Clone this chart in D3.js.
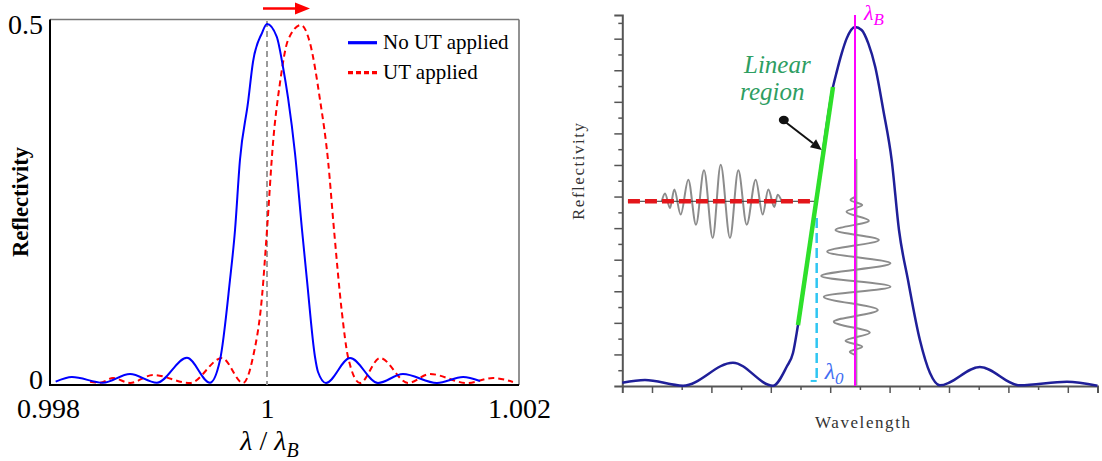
<!DOCTYPE html>
<html>
<head>
<meta charset="utf-8">
<script src="https://cdn.jsdelivr.net/npm/d3@7"></script>
<style>
  body { margin: 0; background: #fff; }
  svg { display: block; }
  svg text { font-family: "Liberation Serif", "DejaVu Serif", serif; }
</style>
</head>
<body>
<script>
// ---- left chart data (reflectivity vs lambda / lambda_B) ----
let blueX = [0.99807, 0.998219, 0.998502, 0.998749, 0.998995, 0.999269, 0.999479, 0.999571,
  0.999662, 0.999708, 0.999753, 0.999826, 0.999872, 0.999954, 1.0,
  1.000077, 1.000127, 1.000167, 1.000222, 1.000278, 1.000317, 1.000381, 1.000405, 1.000468,
  1.000659, 1.000881, 1.001079, 1.001349, 1.001556, 1.00169];
let blueR = [0.0032, 0.0096, 0.0018, 0.0137, 0.0018, 0.0361, 0.0018, 0.033,
  0.1429, 0.2115, 0.3077, 0.386, 0.4423, 0.4821, 0.4945,
  0.4771, 0.4354, 0.3929, 0.3173, 0.2115, 0.1429, 0.0371, 0.0165, 0.0014,
  0.0357, 0.0014, 0.0137, 0.0014, 0.0096, 0.0041];

let redX = [0.998384, 0.998475, 0.998594, 0.998749, 0.998959, 0.999297, 0.999589, 0.999781,
  0.999872, 0.999954, 1.0, 1.0000476, 1.000103, 1.000167, 1.00027, 1.000341, 1.000421,
  1.000484, 1.000532, 1.000595, 1.000643, 1.000738, 1.000897, 1.001119, 1.001294,
  1.001587, 1.001794, 1.001952];
let redR = [0.0032, 0.0018, 0.0082, 0.0014, 0.0124, 0.0014, 0.0357, 0.0014,
  0.0371, 0.1195, 0.2115, 0.331, 0.4135, 0.4725, 0.4931, 0.4684, 0.3901,
  0.3077, 0.2115, 0.0975, 0.0371, 0.0014, 0.0357, 0.0014, 0.0137,
  0.0014, 0.0082, 0.0027];

let xTicksL = [0.998, 1, 1.002];
let yTicksL = [0, 0.5];
let seriesNames = ["No UT applied", "UT applied"];
let redPeak = 1.00027;

// ---- right chart data (schematic, arbitrary units) ----
let waveX = [0, 0.764, 2.044, 3.727, 5.074, 5.535, 5.747, 5.916, 6.505, 7.094, 7.219, 7.387,
  7.556, 7.835, 8.057, 8.283, 8.515, 8.787, 9.07, 9.316, 9.619, 10.02, 10.36, 10.69,
  12.04, 13.39, 14.97, 16.0];
let waveR = [0.21, 0.38, 0.02, 1.48, 0.02, 1.22, 2.09, 3.86, 11.40, 18.94, 19.9, 21.07,
  22.02, 22.74, 22.55, 21.7, 20.22, 17.48, 14.31, 9.88, 6.71, 2.91, 0.82, 0.04,
  1.2, 0.04, 0.27, 0.02];

let linearX = [5.916, 7.094];
let linearR = [3.86, 18.94];

// wave packet lying on the bias level (extremes)
let hPacketX = [1.327, 1.438, 1.606, 1.751, 1.966, 2.222, 2.481, 2.751, 3.044, 3.313,
  3.626, 3.906, 4.189, 4.492, 4.727, 4.916, 5.118, 5.232, 5.367];
let hPacketA = [0, 0.49, -0.42, 0.74, -0.84, 1.37, -1.48, 1.96, -2.32, 2.32,
  -2.32, 1.96, -1.48, 1.37, -0.84, 0.74, -0.36, 0.42, 0];

// wave packet hanging on lambda_B
let vPacketR = [11.99, 11.78, 11.46, 11.04, 10.47, 9.88, 9.25, 8.51, 7.77, 6.97,
  6.29, 5.66, 4.81, 4.07, 3.38, 2.87, 2.49, 2.17, 1.96];
let vPacketA = [0, -0.168, 0.226, -0.303, 0.448, -0.673, 0.785, -0.953, 1.178, -1.155,
  1.178, -1.067, 0.751, -0.731, 0.481, -0.337, 0.226, -0.192, 0];

let lambdaB = 7.835;
let lambda0 = 6.545;
let biasR = 11.70;

// ---- svg ----
let svg = d3.select("body").append("svg")
  .attr("width", 1102)
  .attr("height", 461);

// =============== LEFT CHART ===============
let box = { left: 50, right: 519, top: 19.5, bottom: 385 };

let xL = d3.scaleLinear()
  .domain([0.998, 1, 1.002])
  .range([48, 267, 519]);

let yL = d3.scaleLinear()
  .domain([0, 0.5])
  .range([384, 20]);

let left = svg.append("g");

// frame: grey top / right, black left / bottom
left.append("line").attr("x1", box.left).attr("x2", box.right)
  .attr("y1", box.top).attr("y2", box.top)
  .attr("stroke", "#777").attr("stroke-width", 1.6);
left.append("line").attr("x1", box.right).attr("x2", box.right)
  .attr("y1", box.top).attr("y2", box.bottom)
  .attr("stroke", "#777").attr("stroke-width", 1.6);

// x axis
let xAxisL = left.append("g")
  .attr("transform", `translate(0, ${box.bottom})`)
  .call(d3.axisBottom(xL).tickValues(xTicksL).tickSize(0).tickPadding(13)
    .tickFormat(d => d === 1 ? "1" : d3.format(".3f")(d)));
xAxisL.select(".domain").remove();
xAxisL.selectAll("text")
  .attr("font-size", 28).attr("fill", "#000");

// y axis
let yAxisL = left.append("g")
  .attr("transform", `translate(${box.left}, 0)`)
  .call(d3.axisLeft(yL).tickValues(yTicksL).tickSize(0).tickPadding(7)
    .tickFormat(d => d === 0 ? "0" : "0.5"));
yAxisL.select(".domain").remove();
yAxisL.selectAll("text")
  .attr("y", d => d === 0 ? -4 : 5)
  .attr("font-size", 28).attr("fill", "#000");

left.append("line").attr("x1", box.left).attr("x2", box.left)
  .attr("y1", box.top).attr("y2", box.bottom + 1)
  .attr("stroke", "#000").attr("stroke-width", 2);
left.append("line").attr("x1", box.left).attr("x2", box.right)
  .attr("y1", box.bottom).attr("y2", box.bottom)
  .attr("stroke", "#000").attr("stroke-width", 2);

// reference line at lambda = lambda_B
left.append("line")
  .attr("x1", xL(1)).attr("x2", xL(1))
  .attr("y1", yL(0.5) + 1).attr("y2", box.bottom)
  .attr("stroke", "#9a9a9a").attr("stroke-width", 2)
  .attr("stroke-dasharray", "6,4");

let lineL = d3.line()
  .x(d => xL(d[0]))
  .y(d => yL(d[1]))
  .curve(d3.curveMonotoneX);

left.append("path")
  .datum(redX.map((x, i) => [x, redR[i]]))
  .attr("d", lineL)
  .attr("fill", "none")
  .attr("stroke", "#ff0000")
  .attr("stroke-width", 2)
  .attr("stroke-dasharray", "6,4");

left.append("path")
  .datum(blueX.map((x, i) => [x, blueR[i]]))
  .attr("d", lineL)
  .attr("fill", "none")
  .attr("stroke", "#0000ff")
  .attr("stroke-width", 2);

// shift arrow
let arrowY = 8.5;
left.append("line")
  .attr("x1", xL(1) - 4).attr("x2", xL(redPeak) - 5)
  .attr("y1", arrowY).attr("y2", arrowY)
  .attr("stroke", "#ff0000").attr("stroke-width", 2.5);
left.append("path")
  .attr("d", `M${xL(redPeak) - 6},${arrowY - 6}L${xL(redPeak) + 9},${arrowY}L${xL(redPeak) - 6},${arrowY + 6}Z`)
  .attr("fill", "#ff0000");

// legend
let legend = left.append("g").attr("transform", "translate(348, 42.7)");
legend.append("line").attr("x1", 0).attr("x2", 29).attr("y1", 0).attr("y2", 0)
  .attr("stroke", "#0000ff").attr("stroke-width", 3.2);
legend.append("line").attr("x1", 0).attr("x2", 29).attr("y1", 30).attr("y2", 30)
  .attr("stroke", "#ff0000").attr("stroke-width", 3.2).attr("stroke-dasharray", "5,3");
legend.selectAll("text.leg")
  .data(seriesNames)
  .enter()
  .append("text")
  .attr("x", 35)
  .attr("y", (d, i) => 6 + i * 30)
  .attr("font-size", 21)
  .text(d => d);

// axis titles
left.append("text")
  .attr("transform", "translate(28, 202) rotate(-90)")
  .attr("text-anchor", "middle")
  .attr("font-weight", "bold")
  .attr("font-size", 22.5)
  .text("Reflectivity");

let xTitle = left.append("text")
  .attr("x", 269.5).attr("y", 450)
  .attr("text-anchor", "middle")
  .attr("font-size", 28);
xTitle.append("tspan").attr("font-style", "italic").text("λ");
xTitle.append("tspan").text(" / ");
xTitle.append("tspan").attr("font-style", "italic").text("λ");
xTitle.append("tspan").attr("font-style", "italic").attr("font-size", 20)
  .attr("dy", 7).text("B");

// =============== RIGHT CHART ===============
let xR = d3.scaleLinear().domain([0, 16]).range([622.3, 1097.5]);
let yR = d3.scaleLinear().domain([0, 23.5]).range([386, 15]);

let right = svg.append("g");

let xAxisR = right.append("g")
  .attr("transform", `translate(0, ${yR(0)})`)
  .call(d3.axisBottom(xR).tickValues(d3.range(1, 16)).tickSizeOuter(7).tickFormat(""));
xAxisR.selectAll(".tick line").attr("y2", d => d % 2 ? 7 : 4)
  .attr("stroke", "#555").attr("stroke-width", 1.5);
xAxisR.select(".domain").attr("stroke", "#555").attr("stroke-width", 2);

let yAxisR = right.append("g")
  .attr("transform", `translate(${xR(0)}, 0)`)
  .call(d3.axisLeft(yR).tickValues(d3.range(1, 24)).tickSizeOuter(8).tickFormat(""));
yAxisR.selectAll(".tick line").attr("x2", d => d % 2 ? -4 : -8)
  .attr("stroke", "#555").attr("stroke-width", 1.5);
yAxisR.select(".domain").attr("stroke", "#555").attr("stroke-width", 2);

// reflectivity spectrum
let lineR = d3.line()
  .x(d => xR(d[0]))
  .y(d => yR(d[1]))
  .curve(d3.curveMonotoneX);

right.append("path")
  .datum(waveX.map((x, i) => [x, waveR[i]]))
  .attr("d", lineR)
  .attr("fill", "none")
  .attr("stroke", "#1f1f99")
  .attr("stroke-width", 2.5);

// strain signal hanging on lambda_B
right.append("line")
  .attr("x1", xR(lambdaB + 0.055)).attr("x2", xR(lambdaB + 0.055))
  .attr("y1", yR(14.38)).attr("y2", yR(0))
  .attr("stroke", "#999").attr("stroke-width", 1.5);

right.append("path")
  .datum(vPacketR.map((r, i) => [lambdaB + 0.017 + vPacketA[i], r]))
  .attr("d", d3.line().x(d => xR(d[0])).y(d => yR(d[1])).curve(d3.curveMonotoneY))
  .attr("fill", "none")
  .attr("stroke", "#8c8c8c")
  .attr("stroke-width", 2);

right.append("line")
  .attr("x1", xR(lambdaB)).attr("x2", xR(lambdaB))
  .attr("y1", yR(23.5)).attr("y2", yR(0))
  .attr("stroke", "#ff00ff").attr("stroke-width", 2);

// output signal on the bias level
right.append("path")
  .datum(hPacketX.map((x, i) => [x, biasR + hPacketA[i]]))
  .attr("d", lineR)
  .attr("fill", "none")
  .attr("stroke", "#8c8c8c")
  .attr("stroke-width", 2);

right.append("line")
  .attr("x1", xR(0.19)).attr("x2", xR(6.53))
  .attr("y1", yR(biasR)).attr("y2", yR(biasR))
  .attr("stroke", "#333").attr("stroke-width", 1);

right.append("line")
  .attr("x1", xR(0.19)).attr("x2", xR(6.53))
  .attr("y1", yR(biasR)).attr("y2", yR(biasR))
  .attr("stroke", "#e3161b").attr("stroke-width", 4.5)
  .attr("stroke-dasharray", "12,5");

// lambda_0 marker
right.append("line")
  .attr("x1", xR(lambda0)).attr("x2", xR(lambda0))
  .attr("y1", yR(10.64)).attr("y2", yR(0.32))
  .attr("stroke", "#2fc6f2").attr("stroke-width", 2.5)
  .attr("stroke-dasharray", "10,5");
right.append("line")
  .attr("x1", xR(6.343)).attr("x2", xR(lambda0))
  .attr("y1", yR(0.32)).attr("y2", yR(0.32))
  .attr("stroke", "#2fc6f2").attr("stroke-width", 2);

// linear region
right.append("line")
  .attr("x1", xR(linearX[0])).attr("x2", xR(linearX[1]))
  .attr("y1", yR(linearR[0])).attr("y2", yR(linearR[1]))
  .attr("stroke", "#2ee02a").attr("stroke-width", 4.5);

// pointer arrow
let a0 = [xR(5.404), yR(16.85)], a1 = [xR(6.714), yR(14.95)];
let ang = Math.atan2(a1[1] - a0[1], a1[0] - a0[0]);
let hl = 11, hw = 5;
let hb = [a1[0] - hl * Math.cos(ang), a1[1] - hl * Math.sin(ang)];
right.append("line")
  .attr("x1", a0[0]).attr("y1", a0[1]).attr("x2", hb[0]).attr("y2", hb[1])
  .attr("stroke", "#111").attr("stroke-width", 2);
right.append("path")
  .attr("d", `M${a1[0]},${a1[1]}L${hb[0] + hw * Math.sin(ang)},${hb[1] - hw * Math.cos(ang)}L${hb[0] - hw * Math.sin(ang)},${hb[1] + hw * Math.cos(ang)}Z`)
  .attr("fill", "#111");
right.append("ellipse")
  .attr("cx", a0[0] + 1).attr("cy", a0[1])
  .attr("rx", 5).attr("ry", 4.2)
  .attr("fill", "#111");

// labels
right.append("text")
  .attr("x", xR(5.22)).attr("y", yR(19.82))
  .attr("text-anchor", "middle")
  .attr("font-style", "italic").attr("font-size", 25)
  .attr("fill", "#2e9e62")
  .text("Linear");
right.append("text")
  .attr("x", xR(5.05)).attr("y", yR(18.11))
  .attr("text-anchor", "middle")
  .attr("font-style", "italic").attr("font-size", 25)
  .attr("fill", "#2e9e62")
  .text("region");

let lbB = right.append("text")
  .attr("x", xR(lambdaB) + 9).attr("y", yR(23.18))
  .attr("fill", "#ff00ff").attr("font-style", "italic").attr("font-size", 22);
lbB.append("tspan").text("λ");
lbB.append("tspan").attr("font-size", 17).attr("dy", 5).text("B");

let lb0 = right.append("text")
  .attr("x", xR(lambda0) + 8).attr("y", yR(0.44))
  .attr("fill", "#3f6ef2").attr("font-style", "italic").attr("font-size", 24);
lb0.append("tspan").text("λ");
lb0.append("tspan").attr("font-size", 17).attr("dy", 5).text("0");

right.append("text")
  .attr("transform", "translate(584, 171.5) rotate(-90)")
  .attr("text-anchor", "middle")
  .attr("font-size", 17)
  .attr("fill", "#333")
  .attr("textLength", 97).attr("lengthAdjust", "spacing")
  .text("Reflectivity");

right.append("text")
  .attr("x", 815).attr("y", 428)
  .attr("font-size", 17)
  .attr("fill", "#333")
  .attr("textLength", 95).attr("lengthAdjust", "spacing")
  .text("Wavelength");
</script>
</body>
</html>
